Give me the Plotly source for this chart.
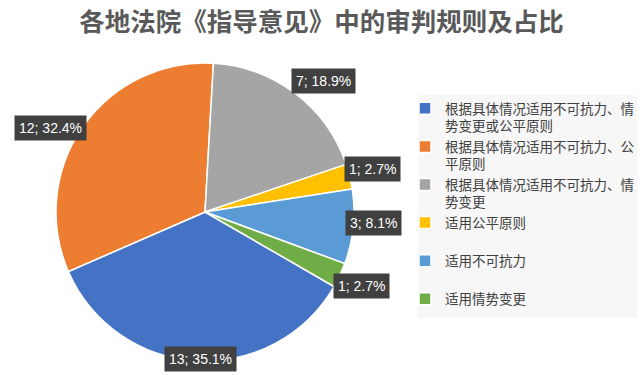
import math
import plotly.graph_objects as go

labels = [
    "根据具体情况适用不可抗力、情<br>势变更或公平原则",
    "根据具体情况适用不可抗力、公<br>平原则",
    "根据具体情况适用不可抗力、情<br>势变更",
    "适用公平原则<br> ",
    "适用不可抗力<br> ",
    "适用情势变更",
]
values = [13, 12, 7, 1, 3, 1]
colors = ["#4472C4", "#ED7D31", "#A5A5A5", "#FFC000", "#5B9BD5", "#70AD47"]
title_text = "各地法院《指导意见》中的审判规则及占比"

W, H = 643, 375
cx, cy, R = 205, 212, 149
start_angle = 120  # first slice starts here, clockwise from 12 o'clock
# label pixel offsets relative to the slice's outer edge midpoint (style only)
label_shift = [(4, -2), (-32, 1), (28, -12), (23, -7), (20, -4), (22, 11)]

total = sum(values)

fig = go.Figure()
fig.add_trace(go.Pie(
    labels=labels,
    values=values,
    sort=False,
    direction="clockwise",
    rotation=start_angle,
    marker=dict(colors=colors, line=dict(color="white", width=1.5)),
    textinfo="none",
    hoverinfo="label+value+percent",
    domain=dict(x=[(cx - R) / W, (cx + R) / W], y=[1 - (cy + R) / H, 1 - (cy - R) / H]),
))

annotations = []
cum = 0
for v, (dx, dy) in zip(values, label_shift):
    mid = start_angle + (cum + v / 2) / total * 360
    cum += v
    a = math.radians(mid)
    px = cx + R * math.sin(a)
    py = cy - R * math.cos(a)
    pct = v / total * 100
    annotations.append(dict(
        x=px / W, y=1 - py / H, xref="paper", yref="paper",
        xshift=dx, yshift=-dy,
        text=f"{v}; {pct:.1f}%", showarrow=False,
        font=dict(family="Liberation Sans, Arial", size=14, color="white"),
        bgcolor="#404040", borderpad=4,
        xanchor="center", yanchor="middle",
    ))

fig.update_layout(
    width=W, height=H,
    margin=dict(l=0, r=0, t=0, b=0),
    paper_bgcolor="white",
    title=dict(
        text=f"<b>{title_text}</b>",
        x=0.5, xanchor="center", y=1 - 22 / H, yanchor="middle",
        font=dict(family="Noto Sans CJK SC", size=25.5, color="#595959"),
    ),
    legend=dict(
        x=405 / W, xanchor="left", y=1 - 93 / H, yanchor="top",
        bgcolor="rgba(0,0,0,0)",
        font=dict(family="Noto Sans CJK SC", size=13.5, color="#404040"),
        valign="top",
        itemwidth=30,
    ),
    shapes=[dict(
        type="rect", xref="paper", yref="paper",
        x0=418 / W, x1=637 / W, y0=1 - 318 / H, y1=1 - 95 / H,
        fillcolor="#F7F7F7", line=dict(width=0), layer="below",
    )],
    annotations=annotations,
    showlegend=True,
)

fig.write_html(
    "out.html",
    config={"displayModeBar": False},
    post_script="document.body.style.margin='0';",
)
